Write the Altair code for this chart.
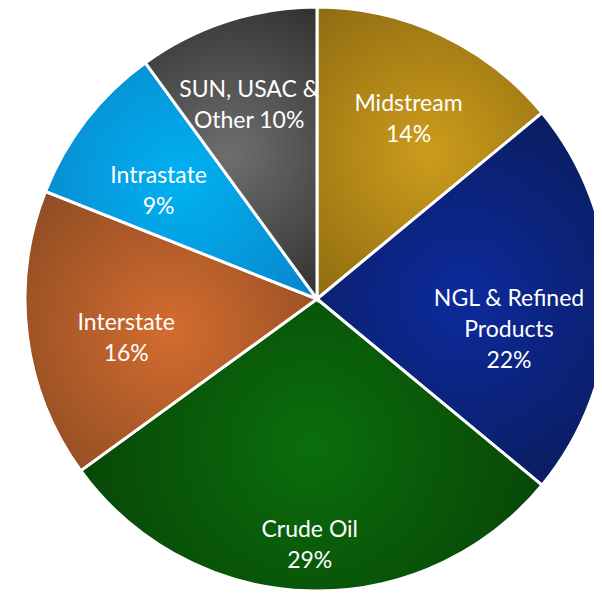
import altair as alt
import pandas as pd

categories = ["Midstream", "NGL & Refined Products", "Crude Oil", "Interstate", "Intrastate", "SUN, USAC & Other"]
shares = [14, 22, 29, 16, 9, 10]
labels = ["Midstream\n14%", "NGL & Refined\nProducts\n22%", "Crude Oil\n29%", "Interstate\n16%", "Intrastate\n9%", "SUN, USAC &\nOther 10%"]
center_colors = ["#cc9c1c", "#0c2a9c", "#0b6e0b", "#d46c30", "#00b2f2", "#6e6e6e"]
edge_colors = ["#8a6810", "#0a1a52", "#073a07", "#8a4a22", "#0a82c8", "#262626"]

df = pd.DataFrame({
    "order": list(range(len(categories))),
    "category": categories,
    "share": shares,
    "label": labels,
})

CX, CY, R = 309, 291, 292

base = alt.Chart(df).transform_window(
    cum="sum(share)", sort=[alt.SortField("order")], frame=[None, 0]
).transform_calculate(
    start="datum.cum - datum.share",
    mid="datum.cum - datum.share / 2",
).transform_calculate(
    # labels sit further out where the slice is tall and closer in at the sides
    lr="232 - 40 * abs(sin(datum.mid / 100 * 2 * PI))",
)

theta_scale = alt.Scale(domain=[0, 100], range=[0, 6.283185307179586])

layers = []
for cat, c0, c1 in zip(categories, center_colors, edge_colors):
    grad = {
        "gradient": "radial",
        "x1": 0.5, "y1": 0.5, "r1": 0,
        "x2": 0.5, "y2": 0.5, "r2": 0.68,
        "stops": [
            {"offset": 0, "color": c0},
            {"offset": 1, "color": c1},
        ],
    }
    layer = base.transform_filter(alt.datum.category == cat).mark_arc(
        radius=R, fill=grad, stroke="white", strokeWidth=3, strokeJoin="miter"
    ).encode(
        theta=alt.Theta("start:Q", scale=theta_scale),
        theta2="cum:Q",
        x=alt.value(CX),
        y=alt.value(CY),
    )
    layers.append(layer)

text = base.mark_text(
    font="Lato", fontSize=23, color="white", lineBreak="\n", lineHeight=31,
    align="center", baseline="middle",
).encode(
    theta=alt.Theta("mid:Q", scale=theta_scale),
    radius=alt.Radius("lr:Q", scale=None),
    x=alt.value(CX),
    y=alt.value(CY),
    text="label:N",
)

chart = alt.layer(*layers, text).properties(
    width=586, height=586, padding=0, autosize=alt.AutoSizeParams(type="none")
).configure_view(stroke=None)

chart.save("out.html", embed_options={"renderer": "svg", "actions": False})
